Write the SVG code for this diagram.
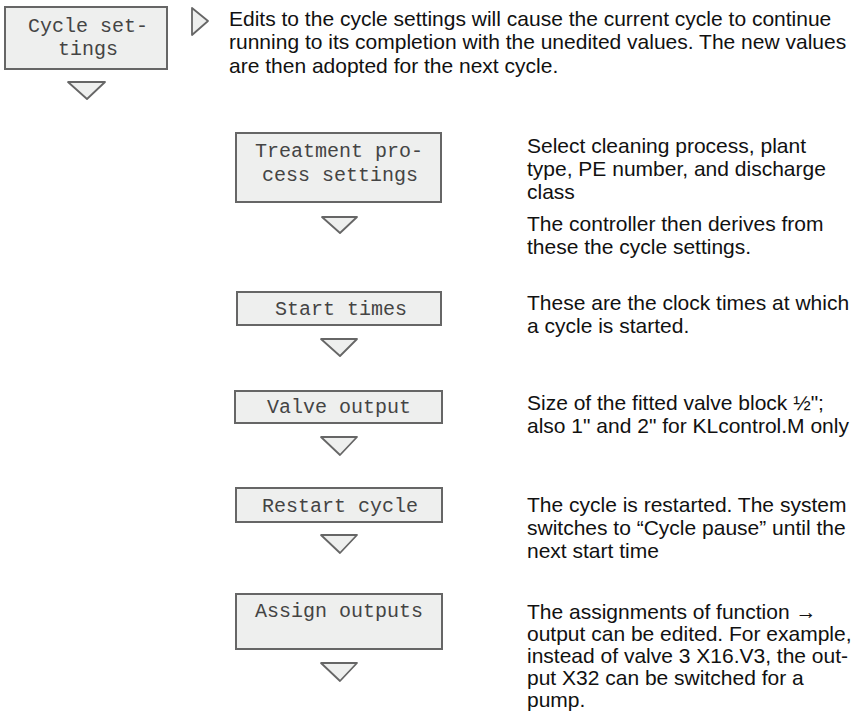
<svg xmlns="http://www.w3.org/2000/svg" width="857" height="712" viewBox="0 0 857 712">
<style>
.box{fill:#eeefee;stroke:#666;stroke-width:2}
.tri{fill:#eeefee;stroke:#666;stroke-width:1.8;stroke-linejoin:round}
.mono{font-family:"Liberation Mono","Courier New",monospace;font-size:20px;fill:#444}
.txt{font-family:"Liberation Sans",Arial,sans-serif;font-size:21px;fill:#111}
.arr{font-weight:bold}
</style>
<rect width="857" height="712" fill="#fff"/>
<g id="cycle-settings">
<rect class="box" x="5" y="7" width="162" height="62"/>
<text class="mono" x="28" y="32">Cycle set-</text>
<text class="mono" x="58" y="55">tings</text>
</g>
<g id="treatment">
<rect class="box" x="236" y="133" width="205" height="69"/>
<text class="mono" x="255" y="157">Treatment pro-</text>
<text class="mono" x="262" y="181">cess settings</text>
</g>
<g id="start-times">
<rect class="box" x="237" y="292" width="204" height="33"/>
<text class="mono" x="275" y="315">Start times</text>
</g>
<g id="valve-output">
<rect class="box" x="235" y="391" width="207" height="32"/>
<text class="mono" x="267" y="413">Valve output</text>
</g>
<g id="restart-cycle">
<rect class="box" x="236" y="488" width="206" height="34"/>
<text class="mono" x="262" y="512">Restart cycle</text>
</g>
<g id="assign-outputs">
<rect class="box" x="236" y="594" width="206" height="55"/>
<text class="mono" x="255" y="617">Assign outputs</text>
</g>
<g id="connectors">
<polygon class="tri" points="68,82 105,82 87,99"/>
<polygon class="tri" points="192,8 208,21 192,35"/>
<polygon class="tri" points="322,217 357,217 340,233"/>
<polygon class="tri" points="321,339 357,339 340,356"/>
<polygon class="tri" points="321,437 357,437 340,455"/>
<polygon class="tri" points="321,535 357,535 340,553"/>
<polygon class="tri" points="321,663 357,663 340,681"/>
</g>
<g id="notes">
<text class="txt" x="229" y="25.5">Edits to the cycle settings will cause the current cycle to continue</text>
<text class="txt" x="229" y="49">running to its completion with the unedited values. The new values</text>
<text class="txt" x="229" y="72.5">are then adopted for the next cycle.</text>
<text class="txt" x="527" y="153">Select cleaning process, plant</text>
<text class="txt" x="527" y="176">type, PE number, and discharge</text>
<text class="txt" x="527" y="199">class</text>
<text class="txt" x="527" y="231">The controller then derives from</text>
<text class="txt" x="527" y="254">these the cycle settings.</text>
<text class="txt" x="527" y="310">These are the clock times at which</text>
<text class="txt" x="527" y="333">a cycle is started.</text>
<text class="txt" x="527" y="410">Size of the fitted valve block ½";</text>
<text class="txt" x="527" y="433">also 1" and 2" for KLcontrol.M only</text>
<text class="txt" x="527" y="512">The cycle is restarted. The system</text>
<text class="txt" x="527" y="535">switches to “Cycle pause” until the</text>
<text class="txt" x="527" y="558">next start time</text>
<text class="txt" x="527" y="619">The assignments of function <tspan class="arr">→</tspan></text>
<text class="txt" x="527" y="641">output can be edited. For example,</text>
<text class="txt" x="527" y="663">instead of valve 3 X16.V3, the out-</text>
<text class="txt" x="527" y="685">put X32 can be switched for a</text>
<text class="txt" x="527" y="707">pump.</text>
</g>
</svg>
